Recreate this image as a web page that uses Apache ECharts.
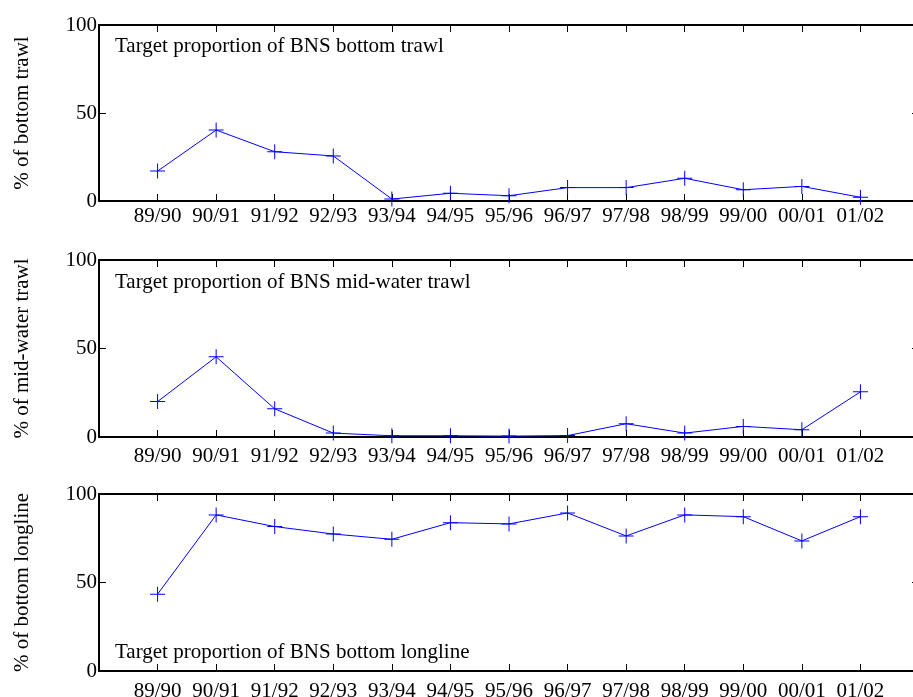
<!DOCTYPE html>
<html>
<head>
<meta charset="utf-8">
<script src="https://cdn.jsdelivr.net/npm/echarts@6/dist/echarts.min.js"></script>
<style>html,body{margin:0;padding:0;background:#fff;}#c{width:913px;height:697px;}</style>
</head>
<body>
<div id="c"></div>
<script>
const seasons = ['89/90','90/91','91/92','92/93','93/94','94/95','95/96','96/97','97/98','98/99','99/00','00/01','01/02'];
const bottomTrawl = [17, 40.3, 28, 25.6, 1.1, 4.4, 3, 7.6, 7.6, 12.9, 6.4, 8.3, 2.1];
const midWaterTrawl = [20, 45.3, 15.9, 2.2, 0.7, 0.7, 0.5, 0.8, 7.5, 2.2, 6, 4.1, 25.5];
const bottomLongline = [43.4, 88.2, 81.6, 77.4, 74.4, 83.8, 83.1, 89.3, 76.3, 88.2, 87.2, 73.5, 87.2];
const panelTitles = ['Target proportion of BNS bottom trawl', 'Target proportion of BNS mid-water trawl', 'Target proportion of BNS bottom longline'];
const yNames = ['% of bottom trawl', '% of mid-water trawl', '% of bottom longline'];
const yTicks = [0, 50, 100];

const FONT = '"Liberation Serif", "Times New Roman", serif';
const FS = 21;
const grids = [
  {left: 99, width: 820, top: 25, height: 176, outerBoundsMode: 'none', containLabel: false},
  {left: 99, width: 820, top: 260, height: 177, outerBoundsMode: 'none', containLabel: false},
  {left: 99, width: 820, top: 494, height: 177, outerBoundsMode: 'none', containLabel: false}
];
const labelMargins = [5, 9, 10];
const titlePos = [{left: 115, top: 36}, {left: 115, top: 272}, {left: 115, top: 642}];
const seriesData = [bottomTrawl, midWaterTrawl, bottomLongline];

const xAxes = [], yAxes = [], series = [], titles = [];
const tick = {show: true, inside: true, length: 7, lineStyle: {color: '#000', width: 1}};
const axLine = {show: true, onZero: false, lineStyle: {color: '#000', width: 2}};
grids.forEach((g, i) => {
  xAxes.push({
    type: 'value', gridIndex: i, min: 0, max: 14, interval: 1, position: 'bottom',
    axisLine: axLine, axisTick: tick, splitLine: {show: false},
    axisLabel: {color: '#000', fontFamily: FONT, fontSize: FS, margin: labelMargins[i],
      formatter: v => seasons[v - 1] || ''}
  });
  xAxes.push({
    type: 'value', gridIndex: i, min: 0, max: 14, interval: 1, position: 'top',
    axisLine: axLine, axisTick: tick, splitLine: {show: false}, axisLabel: {show: false}
  });
  yAxes.push({
    type: 'value', gridIndex: i, min: yTicks[0], max: yTicks[2], interval: 50, position: 'left',
    axisLine: axLine, axisTick: tick, splitLine: {show: false},
    axisLabel: {color: '#000', fontFamily: FONT, fontSize: FS, margin: 2},
    name: yNames[i], nameLocation: 'middle', nameGap: 66,
    nameTextStyle: {color: '#000', fontFamily: FONT, fontSize: FS}
  });
  yAxes.push({
    type: 'value', gridIndex: i, min: yTicks[0], max: yTicks[2], interval: 50, position: 'right',
    axisLine: axLine, axisTick: tick, splitLine: {show: false}, axisLabel: {show: false}
  });
  series.push({
    type: 'line', xAxisIndex: 2 * i, yAxisIndex: 2 * i,
    data: seriesData[i].map((v, k) => [k + 1, v]),
    lineStyle: {color: '#0000ff', width: 1},
    itemStyle: {color: '#0000ff'},
    symbol: 'path://M7,0H8V7H15V8H8V15H7V8H0V7H7Z', symbolSize: 15, symbolKeepAspect: true,
    showSymbol: true, animation: false
  });
  titles.push({
    text: panelTitles[i], left: titlePos[i].left, top: titlePos[i].top, padding: 0,
    textStyle: {color: '#000', fontFamily: FONT, fontSize: FS, fontWeight: 'normal'}
  });
});

const chart = echarts.init(document.getElementById('c'), null, {renderer: 'canvas'});
chart.setOption({
  backgroundColor: '#fff',
  animation: false,
  title: titles,
  grid: grids,
  xAxis: xAxes,
  yAxis: yAxes,
  series: series
});
</script>
</body>
</html>
